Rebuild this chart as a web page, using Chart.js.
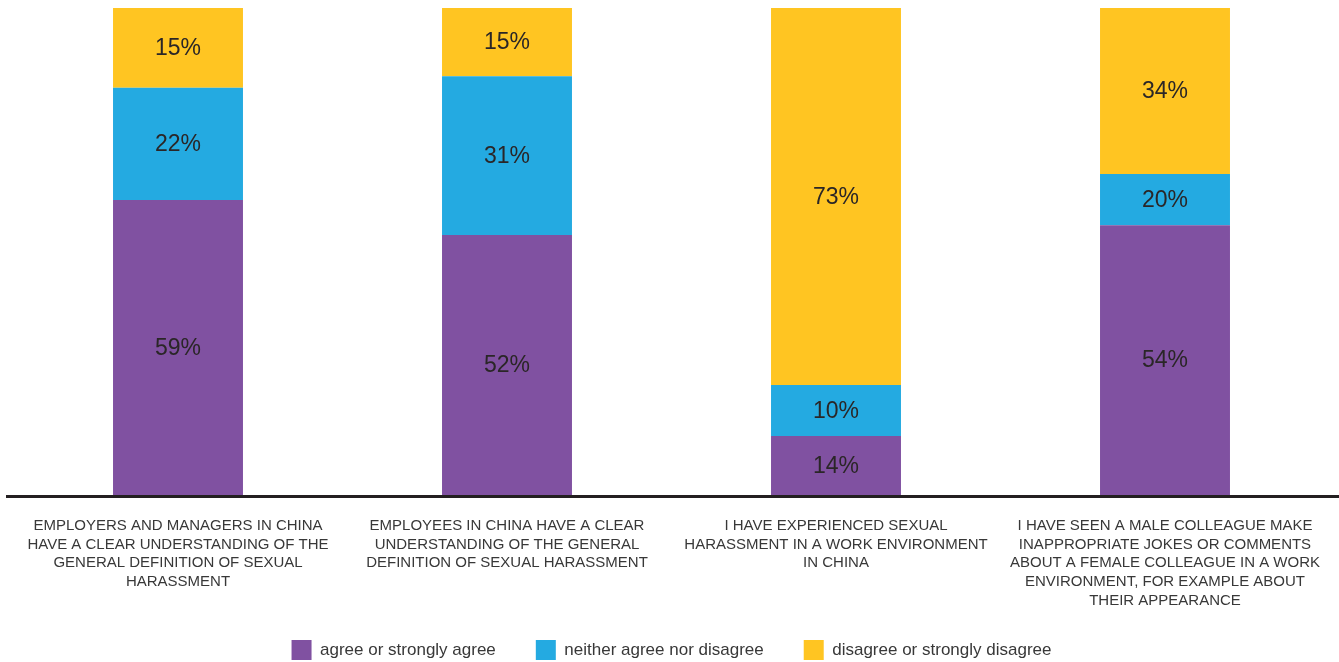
<!DOCTYPE html>
<html>
<head>
<meta charset="utf-8">
<script src="https://cdn.jsdelivr.net/npm/chart.js@4"></script>
<style>
  html, body { margin: 0; padding: 0; background: #fff; }
  #wrap { width: 1339px; height: 662px; }
</style>
</head>
<body>
<div id="wrap"><canvas id="harassment_chart" width="1339" height="662"></canvas></div>
<script>
const categories = [
    ['EMPLOYERS AND MANAGERS IN CHINA', 'HAVE A CLEAR UNDERSTANDING OF THE', 'GENERAL DEFINITION OF SEXUAL', 'HARASSMENT'],
    ['EMPLOYEES IN CHINA HAVE A CLEAR', 'UNDERSTANDING OF THE GENERAL', 'DEFINITION OF SEXUAL HARASSMENT'],
    ['I HAVE EXPERIENCED SEXUAL', 'HARASSMENT IN A WORK ENVIRONMENT', 'IN CHINA'],
    ['I HAVE SEEN A MALE COLLEAGUE MAKE', 'INAPPROPRIATE JOKES OR COMMENTS', 'ABOUT A FEMALE COLLEAGUE IN A WORK', 'ENVIRONMENT, FOR EXAMPLE ABOUT', 'THEIR APPEARANCE']
];
const seriesNames = ['agree or strongly agree', 'neither agree nor disagree', 'disagree or strongly disagree'];

// share of each bar as it is drawn (bars are filled to 100%)
const agree = [60.6, 53.4, 12.1, 55.4];
const neither = [23.0, 32.6, 10.5, 10.5];
const disagree = [16.4, 14.0, 77.4, 34.1];

// percentages printed on the segments
const agreeText = ['59%', '52%', '14%', '54%'];
const neitherText = ['22%', '31%', '10%', '20%'];
const disagreeText = ['15%', '15%', '73%', '34%'];

const FONT = '"Liberation Sans", Arial, sans-serif';

const segmentLabels = {
    id: 'segmentLabels',
    afterDatasetsDraw(chart) {
        const texts = [agreeText, neitherText, disagreeText];
        const ctx = chart.ctx;
        ctx.save();
        ctx.font = '23px ' + FONT;
        ctx.fillStyle = '#2a2627';
        ctx.textAlign = 'center';
        ctx.textBaseline = 'middle';
        chart.data.datasets.forEach((ds, i) => {
            chart.getDatasetMeta(i).data.forEach((bar, j) => {
                const mid = (bar.y + bar.base) / 2;
                ctx.fillText(texts[i][j], bar.x, mid + 1);
            });
        });
        ctx.restore();
    }
};

const baseLine = {
    id: 'baseLine',
    afterDatasetsDraw(chart) {
        const ctx = chart.ctx;
        const y = chart.chartArea.bottom + 1.5;
        ctx.save();
        ctx.strokeStyle = '#231f20';
        ctx.lineWidth = 3;
        ctx.beginPath();
        ctx.moveTo(6, y);
        ctx.lineTo(chart.width, y);
        ctx.stroke();
        ctx.restore();
    }
};

// the legend padding also spaces the items apart, so keep its box short
// and let its top reach a little over the x labels area
const LEGEND_H = 54;
const LEGEND_LIFT = 8;
const shortLegend = {
    id: 'shortLegend',
    beforeUpdate(chart) {
        const legend = chart.legend;
        if (legend && !legend._shortFit) {
            const fit = legend.fit;
            legend.fit = function () {
                fit.call(this);
                this.height = LEGEND_H;
            };
            legend._shortFit = true;
        }
    },
    afterLayout(chart) {
        const legend = chart.legend;
        if (!legend) return;
        legend.top -= LEGEND_LIFT;
        legend.height += LEGEND_LIFT;
        (legend.legendHitBoxes || []).forEach(h => { h.top -= LEGEND_LIFT; });
    }
};

const chart1 = document.getElementById('harassment_chart');

new Chart(chart1, {
    type: 'bar',
    data: {
        labels: categories,
        datasets: [{
            label: seriesNames[0],
            data: agree,
            backgroundColor: '#8051a1'
        }, {
            label: seriesNames[1],
            data: neither,
            backgroundColor: '#24aae1'
        }, {
            label: seriesNames[2],
            data: disagree,
            backgroundColor: '#ffc522'
        }]
    },
    options: {
        responsive: false,
        animation: false,
        layout: {
            padding: { top: 8, left: 13.5, right: 9.5, bottom: 0 }
        },
        datasets: {
            bar: {
                categoryPercentage: 1,
                barPercentage: 0.395,
                borderWidth: 0
            }
        },
        scales: {
            x: {
                stacked: true,
                grid: { display: false, drawTicks: false },
                border: { display: false },
                ticks: {
                    padding: 22,
                    color: '#383838',
                    maxRotation: 0,
                    autoSkip: false,
                    font: { family: FONT, size: 15, lineHeight: 1.235 }
                },
                afterFit(scale) {
                    scale.height = 113;
                    scale.paddingLeft = 0;
                    scale.paddingRight = 0;
                }
            },
            y: {
                stacked: true,
                display: false,
                min: 0,
                max: 100
            }
        },
        plugins: {
            legend: {
                position: 'bottom',
                labels: {
                    boxWidth: 20,
                    boxHeight: 20,
                    padding: 40,
                    color: '#383838',
                    font: { family: FONT, size: 17 }
                }
            },
            tooltip: { enabled: false }
        }
    },
    plugins: [segmentLabels, baseLine, shortLegend]
});
</script>
</body>
</html>
